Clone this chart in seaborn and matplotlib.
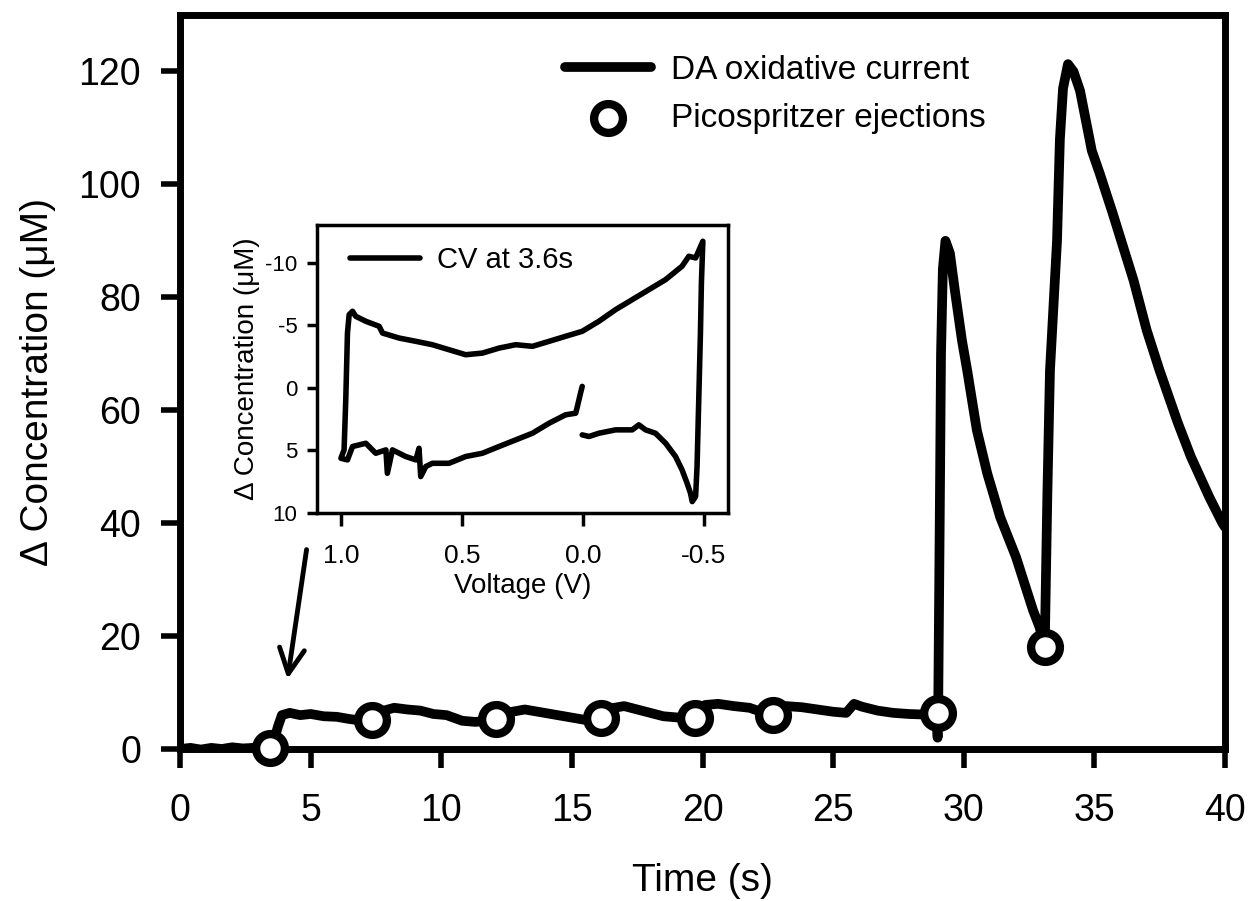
import matplotlib
matplotlib.use('Agg')
import matplotlib.pyplot as plt
import seaborn as sns

# DA oxidative current (main trace), time in s, concentration in uM
time_s = [0.0, 0.4, 0.8, 1.2, 1.6, 2.0, 2.4, 2.8, 3.2, 3.4, 3.6, 3.75, 3.9,
          4.2, 4.6, 5.0, 5.5, 6.0, 6.5, 7.0, 7.4, 7.8, 8.2, 8.7, 9.2, 9.7,
          10.2, 10.8, 11.3, 11.8, 12.1, 12.6, 13.2, 13.7, 14.2, 14.7, 15.2,
          15.7, 16.1, 16.5, 17.0, 17.5, 18.0, 18.5, 19.0, 19.7, 20.1, 20.6,
          21.2, 21.8, 22.3, 22.7, 23.2, 23.8, 24.4, 25.0, 25.5, 25.8, 26.1,
          26.7, 27.3, 27.9, 28.5, 28.95, 29.0, 29.02, 29.08, 29.13, 29.2,
          29.3, 29.47, 29.66, 29.93, 30.13, 30.5, 30.9, 31.4, 32.0, 32.65,
          32.9, 33.1, 33.2, 33.3, 33.57, 33.68, 33.8, 33.99, 34.2, 34.45,
          34.9, 35.2, 35.7, 36.5, 37.0, 37.5, 38.2, 38.7, 39.4, 39.9, 40.0]
conc_um = [0.0, 0.2, -0.1, 0.2, 0.0, 0.3, 0.1, 0.2, 0.1, 0.2, 1.5, 4.0, 6.0,
           6.4, 6.0, 6.2, 5.8, 5.7, 5.3, 5.0, 5.1, 6.8, 7.3, 7.0, 6.8, 6.2,
           6.0, 5.0, 4.8, 5.0, 5.3, 6.5, 7.0, 6.6, 6.2, 5.8, 5.4,
           5.0, 5.5, 7.2, 7.6, 7.0, 6.4, 5.8, 5.6, 5.5, 7.8, 8.0,
           7.6, 7.3, 6.5, 6.0, 7.6, 7.4, 7.0, 6.6, 6.4, 8.0, 7.5,
           6.8, 6.4, 6.2, 6.1, 6.3, 2.0, 6.0, 40.0, 70.0, 85.0,
           90.0, 87.8, 81.2, 72.4, 67.1, 56.5, 48.8, 41.0, 34.0, 24.6,
           21.6, 18.0, 45.0, 67.0, 90.0, 108.0, 117.0, 121.3, 120.0, 116.6,
           106.0, 102.0, 94.9, 83.0, 74.2, 67.0, 57.7, 51.7, 44.6, 40.0, 39.3]

# Picospritzer ejections
eject_t = [3.44, 7.35, 12.1, 16.1, 19.7, 22.7, 29.0, 33.1]
eject_c = [0.2, 5.1, 5.3, 5.5, 5.5, 6.0, 6.4, 18.0]

# inset: CV at 3.6 s
cv_volt = [0.003, -0.025, -0.066, -0.135, -0.204, -0.231, -0.259, -0.300,
           -0.342, -0.383, -0.410, -0.431, -0.445, -0.452, -0.466, -0.472,
           -0.479, -0.486, -0.490, -0.496,
           -0.466, -0.438, -0.410, -0.342, -0.273, -0.204, -0.135, -0.066,
           0.003, 0.072, 0.140, 0.209, 0.278, 0.347, 0.416, 0.485, 0.554,
           0.623, 0.691, 0.760, 0.829, 0.843, 0.898, 0.940, 0.953, 0.967,
           0.974, 0.981, 0.988, 1.001,
           0.974, 0.953, 0.898, 0.857, 0.815, 0.809, 0.788, 0.733, 0.691,
           0.678, 0.671, 0.650, 0.623, 0.554, 0.485, 0.416, 0.347, 0.278,
           0.209, 0.140, 0.072, 0.030, 0.023, 0.010, 0.003]
cv_conc = [3.76, 3.89, 3.63, 3.36, 3.36, 2.96, 3.36, 3.63,
           4.43, 5.49, 6.56, 7.63, 8.43, 9.09, 8.69, 6.29,
           0.96, -4.37, -8.37, -11.7,
           -10.37, -10.5, -9.71, -8.64, -7.84, -7.04, -6.24, -5.31,
           -4.51, -4.11, -3.71, -3.31, -3.44, -3.17, -2.77, -2.64, -3.04,
           -3.44, -3.71, -3.97, -4.37, -4.91, -5.31, -5.71, -6.11, -5.84,
           -4.37, 0.96, 4.96, 5.63,
           5.76, 4.69, 4.43, 5.23, 4.96, 6.83, 4.96, 5.49, 5.76,
           4.83, 7.09, 6.29, 6.03, 6.03, 5.49, 5.23, 4.69, 4.16,
           3.63, 2.83, 2.16, 2.03, 1.49, 0.43, -0.11]

sns.set_theme(style='ticks')
plt.rcParams['font.family'] = ['Liberation Sans', 'DejaVu Sans']
plt.rcParams['axes.unicode_minus'] = False
for key in ['text.color', 'axes.labelcolor', 'xtick.color', 'ytick.color']:
    plt.rcParams[key] = 'black'

fig = plt.figure(figsize=(12.52, 9.01), dpi=100)
ax = fig.add_axes([180 / 1252, 1 - 749 / 901, 1045 / 1252, 734 / 901])

sns.lineplot(x=time_s, y=conc_um, sort=False, estimator=None, color='black',
             lw=7, ax=ax, label='DA oxidative current')
sns.scatterplot(x=eject_t, y=eject_c, s=430, facecolor='white', edgecolor='black',
                linewidth=6, zorder=3, clip_on=False, ax=ax,
                label='Picospritzer ejections')

ax.set_xlim(0, 40)
ax.set_ylim(0, 130)
ax.set_xticks(range(0, 41, 5))
ax.set_yticks(range(0, 121, 20))
for sp in ax.spines.values():
    sp.set_linewidth(5)
    sp.set_color('black')
ax.tick_params(direction='out', length=14, width=4, labelsize=27)
ax.tick_params(axis='x', pad=18)
ax.tick_params(axis='y', pad=14)
ax.set_xlabel('Time (s)', fontsize=28, labelpad=24)
ax.set_ylabel('Δ Concentration (μM)', fontsize=28, labelpad=16)

ax.legend(loc='upper left', bbox_to_anchor=(0.368, 0.9455), frameon=False,
          fontsize=24, handlelength=2.6, handletextpad=0.6, borderpad=0,
          borderaxespad=0, labelspacing=0.5)

ax.annotate('', xy=(4.1, 11.9), xytext=(4.86, 35.8),
            arrowprops=dict(arrowstyle='->', lw=3.5, color='black',
                            mutation_scale=45))

# inset cyclic voltammogram
ins = fig.add_axes([317 / 1252, 1 - 513 / 901, 411 / 1252, 288 / 901])
sns.lineplot(x=cv_volt, y=cv_conc, sort=False, estimator=None, color='black',
             lw=4, ax=ins, label='CV at 3.6s')
ins.set_xlim(1.1, -0.6)
ins.set_ylim(10, -13)
ins.set_xticks([1.0, 0.5, 0.0, -0.5])
ins.set_xticklabels(['1.0', '0.5', '0.0', '-0.5'])
ins.set_yticks([-10, -5, 0, 5, 10])
for sp in ins.spines.values():
    sp.set_linewidth(2.5)
    sp.set_color('black')
ins.tick_params(direction='out', width=2.5)
ins.tick_params(axis='x', length=9, labelsize=19, pad=13)
ins.tick_params(axis='y', length=7, labelsize=16, pad=7)
ins.set_xlabel('Voltage (V)', fontsize=20)
ins.set_ylabel('Δ Concentration (μM)', fontsize=20)
ins.legend(loc='upper left', bbox_to_anchor=(0.08, 0.927), frameon=False,
           fontsize=21, handlelength=2.4, handletextpad=0.6, borderpad=0,
           borderaxespad=0)

fig.savefig('out.png', dpi=100, facecolor='white')
